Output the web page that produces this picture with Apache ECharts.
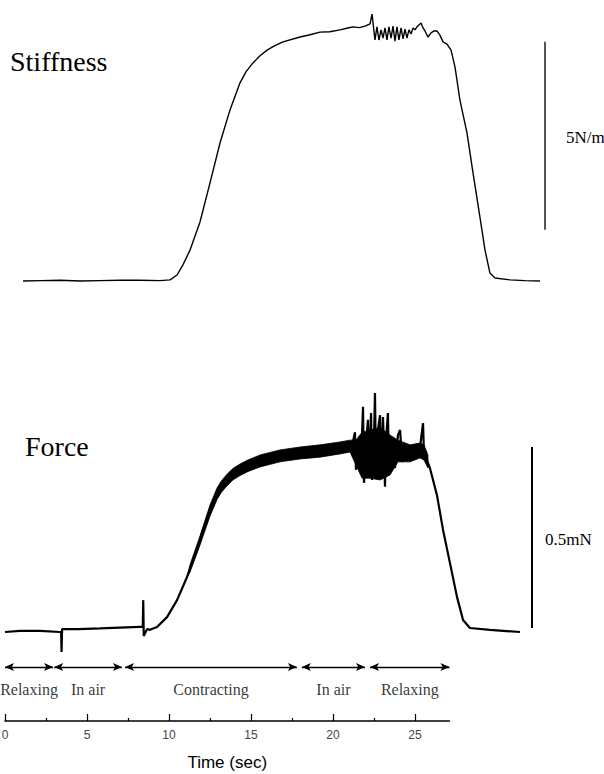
<!DOCTYPE html>
<html>
<head>
<meta charset="utf-8">
<script src="https://cdn.jsdelivr.net/npm/echarts@6/dist/echarts.min.js"></script>
<style>
  html, body { margin: 0; padding: 0; background: #fff; }
  #main { width: 604px; height: 774px; }
</style>
</head>
<body>
<div id="main"></div>
<script>
// stiffness trace (time in s, stiffness in N/m above baseline)
var stiffT = [1.10, 2.20, 3.35, 4.60, 5.79, 7.00, 8.23, 9.45, 10.06, 10.49,
  10.85, 11.28, 11.89, 12.50, 13.11, 13.72, 14.33, 14.70, 15.12, 15.55, 15.98, 16.45, 16.95, 17.99,
  18.60, 19.21, 19.80, 20.43, 20.90, 21.22, 21.60, 21.95, 22.26, 22.38,
  22.56, 22.68, 22.80, 22.93, 23.05, 23.17, 23.29, 23.41, 23.54, 23.66,
  23.78, 23.90, 24.02, 24.15, 24.27, 24.39, 24.51, 24.63, 24.76, 24.88,
  25.00, 25.12, 25.24, 25.37, 25.49, 25.61, 25.79, 25.98, 26.16, 26.34,
  26.52, 26.71, 26.95, 27.20, 27.44, 27.74, 28.17, 28.54, 28.96, 29.27,
  29.57, 29.88, 30.79, 31.70, 32.62];
var stiffS = [0, 0.01, 0.02, 0.0, 0.01, 0.02, 0.02, 0.01, 0.03, 0.16,
  0.43, 0.82, 1.57, 2.61, 3.67, 4.55, 5.27, 5.57, 5.80, 5.99, 6.14, 6.26, 6.36, 6.49,
  6.55, 6.62, 6.63, 6.68, 6.73, 6.76, 6.74, 6.78, 6.84, 7.10,
  6.41, 6.76, 6.41, 6.68, 6.46, 6.73, 6.41, 6.76, 6.46, 6.78,
  6.38, 6.76, 6.41, 6.73, 6.44, 6.70, 6.46, 6.68, 6.57, 6.73,
  6.68, 6.76, 6.81, 6.86, 6.73, 6.65, 6.49, 6.60, 6.65, 6.65,
  6.54, 6.36, 6.30, 6.14, 5.69, 4.81, 3.94, 2.87, 1.70, 0.82,
  0.21, 0.08, 0.03, 0.01, 0];

// force trace (time in s, force in mN above baseline)
var forceT = [0, 0.91, 2.13, 3.35, 3.42, 3.45, 3.48, 4.50, 5.79, 7.00,
  8.23, 8.40, 8.43, 8.46, 8.66, 8.84, 9.27, 9.88, 10.49, 11.10,
  11.71, 12.07, 12.50, 12.93, 13.20, 13.54, 13.90, 14.33, 14.80, 15.37, 16.77, 17.99, 19.21,
  20.43, 21.16, 21.34, 21.40, 21.52, 21.77, 21.83, 21.89, 22.01, 22.13,
  22.20, 22.32, 22.38, 22.50, 22.56, 22.62, 22.74, 22.87, 22.93, 23.05,
  23.17, 23.23, 23.35, 23.41, 23.60, 23.78, 23.96, 24.09, 24.21, 24.45,
  24.70, 25.00, 25.30, 25.49, 25.55, 25.61, 25.91, 26.34, 26.71, 27.13,
  27.56, 27.93, 28.35, 29.57, 31.40];
var forceF = [0, 0.003, 0.003, 0.0, 0.0, -0.055, 0.008, 0.008, 0.010, 0.012,
  0.014, 0.014, 0.088, -0.011, 0.008, 0.006, 0.014, 0.041, 0.088, 0.152,
  0.227, 0.282, 0.337, 0.382, 0.402, 0.420, 0.436, 0.448, 0.459, 0.470, 0.486, 0.494, 0.497,
  0.508, 0.514, 0.552, 0.448, 0.503, 0.544, 0.622, 0.412, 0.517, 0.586,
  0.448, 0.605, 0.420, 0.530, 0.660, 0.448, 0.558, 0.599, 0.425, 0.594,
  0.401, 0.530, 0.605, 0.434, 0.530, 0.453, 0.544, 0.558, 0.470, 0.508,
  0.489, 0.503, 0.508, 0.577, 0.486, 0.489, 0.453, 0.378, 0.282, 0.191,
  0.097, 0.033, 0.011, 0.006, 0];

// noise envelope of the force trace while contracting
var bandT = [11.10, 11.28, 11.89, 12.50, 12.93, 13.20, 13.54, 13.90, 14.33, 14.80, 15.55, 16.77, 17.99,
  19.21, 20.43, 21.04, 21.40, 21.77, 22.26, 22.87, 23.48, 23.96, 24.70,
  25.30, 25.55, 25.79];
var bandLo = [0.152, 0.165, 0.240, 0.320, 0.366, 0.386, 0.404, 0.420, 0.432, 0.443, 0.456, 0.470, 0.478,
  0.483, 0.492, 0.497, 0.461, 0.425, 0.425, 0.420, 0.434, 0.470, 0.470,
  0.481, 0.475, 0.453];
var bandHi = [0.152, 0.186, 0.265, 0.351, 0.398, 0.418, 0.436, 0.452, 0.464, 0.475, 0.489, 0.503, 0.511,
  0.517, 0.525, 0.530, 0.530, 0.552, 0.558, 0.564, 0.544, 0.530, 0.517,
  0.522, 0.517, 0.489];

// phases under the traces
var phaseNames = ['Relaxing', 'In air', 'Contracting', 'In air', 'Relaxing'];
var phaseStart = [0, 3.00, 7.32, 18.10, 22.26];
var phaseEnd = [2.93, 7.13, 17.80, 21.95, 27.1];

var xTicks = [0, 5, 10, 15, 20, 25];
var xMinorTicks = [2.5, 7.5, 12.5, 17.5, 22.5];

function zip(a, b) {
  return a.map(function (v, i) { return [v, b[i]]; });
}

var serif = 'Liberation Serif';
var sans = 'Liberation Sans';

var arrowY = 0.76;
var labelY = 0.44;

var chart = echarts.init(document.getElementById('main'), null, { renderer: 'svg' });
chart.setOption({
  animation: false,
  backgroundColor: '#fff',
  title: [
    { text: 'Stiffness', left: 10, top: 47, padding: 0,
      textStyle: { fontFamily: serif, fontSize: 28, fontWeight: 'normal', color: '#000' } },
    { text: 'Force', left: 25, top: 432, padding: 0,
      textStyle: { fontFamily: serif, fontSize: 28, fontWeight: 'normal', color: '#000' } },
    { text: '5N/m', left: 566, top: 129, padding: 0,
      textStyle: { fontFamily: serif, fontSize: 17, fontWeight: 'normal', color: '#000' } },
    { text: '0.5mN', left: 545, top: 531, padding: 0,
      textStyle: { fontFamily: serif, fontSize: 17, fontWeight: 'normal', color: '#000' } }
  ],
  grid: [
    { left: 5, top: 2.76, width: 590.4, height: 315.84, outerBoundsMode: 'none' },
    { left: 5, top: 342.4, width: 590.4, height: 362, outerBoundsMode: 'none' },
    { left: 5, top: 650, width: 444.44, height: 71, outerBoundsMode: 'none' }
  ],
  xAxis: [
    { gridIndex: 0, type: 'value', min: 0, max: 36, show: false },
    { gridIndex: 1, type: 'value', min: 0, max: 36, show: false },
    {
      gridIndex: 2, type: 'value', min: 0, max: 27.1, position: 'bottom', offset: 0,
      axisLine: { onZero: false, lineStyle: { color: '#000', width: 1.5 } },
      axisTick: { inside: true, length: 7, customValues: xTicks, lineStyle: { color: '#000', width: 1.2 } },
      axisLabel: { customValues: xTicks, margin: 8, fontSize: 12, color: '#444', fontFamily: sans },
      splitLine: { show: false },
      name: 'Time (sec)', nameLocation: 'middle', nameGap: 33,
      nameTextStyle: { fontSize: 17, fontFamily: sans, color: '#000' }
    },
    {
      gridIndex: 2, type: 'value', min: 0, max: 27.1, position: 'bottom', offset: 0,
      axisLine: { show: false },
      axisTick: { inside: true, length: 3, customValues: xMinorTicks, lineStyle: { color: '#000', width: 1.2 } },
      axisLabel: { show: false },
      splitLine: { show: false }
    }
  ],
  yAxis: [
    { gridIndex: 0, type: 'value', min: -1, max: 7.4, show: false },
    { gridIndex: 1, type: 'value', min: -0.2, max: 0.8, show: false },
    { gridIndex: 2, type: 'value', min: 0, max: 1, show: false }
  ],
  series: [
    {
      name: 'Stiffness', type: 'line', xAxisIndex: 0, yAxisIndex: 0,
      data: zip(stiffT, stiffS), symbol: 'none', clip: false, silent: true,
      lineStyle: { color: '#000', width: 1.4 },
      markLine: {
        silent: true, symbol: 'none', animation: false,
        label: { show: false },
        lineStyle: { color: '#555', width: 2, type: 'solid' },
        data: [[{ coord: [32.93, 1.36] }, { coord: [32.93, 6.36] }]]
      }
    },
    {
      // filled noise envelope, drawn as one polygon through the axis scales
      name: 'ForceNoise', type: 'custom', xAxisIndex: 1, yAxisIndex: 1,
      silent: true, clip: false,
      data: [[bandT[0], bandLo[0]]],
      renderItem: function (params, api) {
        var pts = [];
        for (var i = 0; i < bandT.length; i++) pts.push(api.coord([bandT[i], bandHi[i]]));
        for (var j = bandT.length - 1; j >= 0; j--) pts.push(api.coord([bandT[j], bandLo[j]]));
        return {
          type: 'polygon',
          shape: { points: pts },
          style: { fill: '#000', stroke: '#000', lineWidth: 0.8 }
        };
      }
    },
    {
      name: 'Force', type: 'line', xAxisIndex: 1, yAxisIndex: 1,
      data: zip(forceT, forceF), symbol: 'none', clip: false, silent: true,
      lineStyle: { color: '#000', width: 2.2 },
      markLine: {
        silent: true, symbol: 'none', animation: false,
        label: { show: false },
        lineStyle: { color: '#000', width: 2, type: 'solid' },
        data: [[{ coord: [32.13, 0.011] }, { coord: [32.13, 0.511] }]]
      }
    },
    {
      name: 'Phases', type: 'scatter', xAxisIndex: 2, yAxisIndex: 2,
      symbolSize: 0, clip: false, silent: true,
      data: phaseNames.map(function (n, i) {
        return { name: n, value: [(phaseStart[i] + phaseEnd[i]) / 2, labelY] };
      }),
      label: {
        show: true, position: 'inside', formatter: '{b}',
        fontFamily: serif, fontSize: 16, color: '#000'
      },
      markLine: {
        silent: true, animation: false,
        symbol: ['arrow', 'arrow'], symbolSize: [6, 9],
        label: { show: false },
        lineStyle: { color: '#000', width: 1.3, type: 'solid' },
        data: phaseNames.map(function (n, i) {
          return [{ coord: [phaseStart[i], arrowY] }, { coord: [phaseEnd[i], arrowY] }];
        })
      }
    }
  ]
});
</script>
</body>
</html>
